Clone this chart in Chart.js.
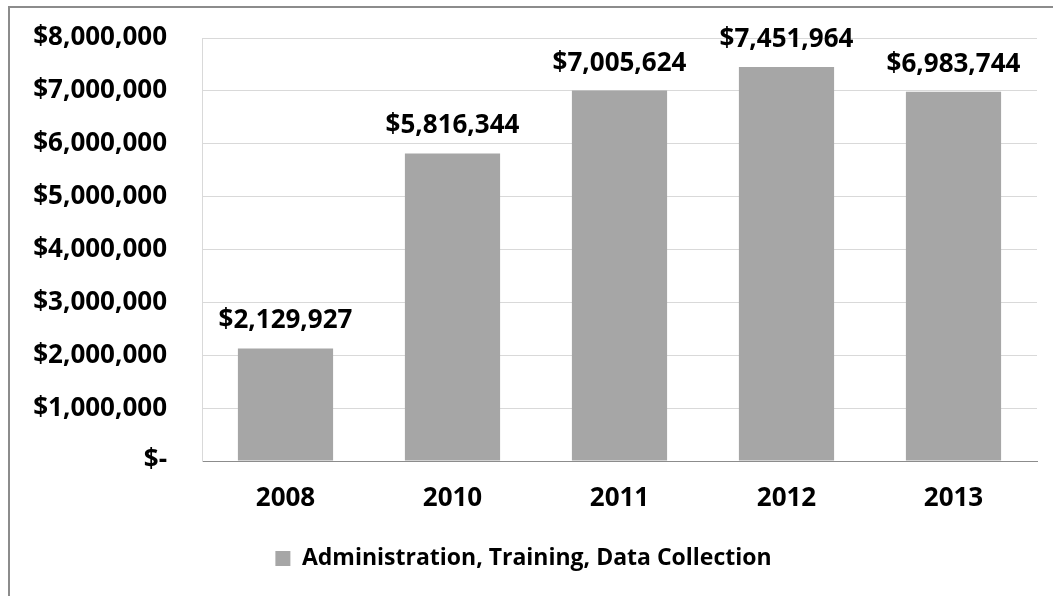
<!DOCTYPE html>
<html>
<head>
<meta charset="utf-8">
<script src="https://cdn.jsdelivr.net/npm/chart.js@4/dist/chart.umd.min.js"></script>
<style>
    html, body { margin: 0; padding: 0; background: #fff; overflow: hidden; }
    #frame {
        position: absolute;
        left: 8px;
        top: 6px;
        width: 1068px;
        height: 610px;
        border: 2px solid #8c8c8c;
        background: #fff;
    }
    #chart { display: block; }
</style>
</head>
<body>
<div id="frame">
    <div style="width:1029px;height:610px;">
        <canvas id="chart"></canvas>
    </div>
</div>
<script>
// Anos e valores gastos
const categories = ["2008", "2010", "2011", "2012", "2013"];
const seriesName = "Administration, Training, Data Collection";
const values = [2129927, 5816344, 7005624, 7451964, 6983744];
const yTicks = [0, 1000000, 2000000, 3000000, 4000000, 5000000, 6000000, 7000000, 8000000];

const FONT = "'Open Sans', Lato, sans-serif";

// Formato contábil: zero vira "$-"
function money(v) {
    if (v === 0) return "$-";
    return "$" + v.toLocaleString("en-US");
}

// Plugin simples para escrever o valor acima de cada barra
const valueLabels = {
    id: "valueLabels",
    afterDatasetsDraw(chart) {
        const ctx = chart.ctx;
        const meta = chart.getDatasetMeta(0);
        ctx.save();
        ctx.font = "bold 26px " + FONT;
        ctx.fillStyle = "#000";
        ctx.textAlign = "center";
        ctx.textBaseline = "alphabetic";
        meta.data.forEach((bar, i) => {
            ctx.fillText(money(values[i]), bar.x, bar.y - 20);
        });
        ctx.restore();
    }
};

const ctx = document.getElementById("chart").getContext("2d");
new Chart(ctx, {
    type: "bar",
    data: {
        labels: categories,
        datasets: [
            {
                label: seriesName,
                data: values,
                backgroundColor: "#a6a6a6",
                borderWidth: 0,
                categoryPercentage: 0.57,
                barPercentage: 1
            }
        ]
    },
    options: {
        responsive: true,
        maintainAspectRatio: false,
        animation: false,
        layout: {
            padding: { top: 30, right: 2, bottom: 38, left: 0 }
        },
        plugins: {
            legend: {
                display: true,
                position: "bottom",
                labels: {
                    color: "#000",
                    font: { family: FONT, size: 23, weight: "bold" },
                    boxWidth: 15,
                    boxHeight: 15,
                    padding: 26
                }
            },
            tooltip: { enabled: false }
        },
        scales: {
            x: {
                grid: { display: false, drawTicks: false },
                border: { display: true, color: "#8c8c8c", width: 1 },
                ticks: {
                    color: "#000",
                    font: { family: FONT, size: 26, weight: "bold" },
                    padding: 22
                },
                afterFit(scale) { scale.height = 60; }
            },
            y: {
                min: 0,
                max: 8000000,
                // marca invisível para afastar os rótulos do eixo
                grid: { color: "#d9d9d9", tickLength: 30, tickColor: "rgba(0,0,0,0)" },
                border: { display: true, color: "#d9d9d9", width: 1 },
                afterBuildTicks(scale) {
                    scale.ticks = yTicks.map(v => ({ value: v }));
                },
                ticks: {
                    color: "#000",
                    font: { family: FONT, size: 26, weight: "bold" },
                    padding: 5,
                    callback: v => money(v)
                },
                afterFit(scale) { scale.width = 192; }
            }
        }
    },
    plugins: [valueLabels]
});
</script>
</body>
</html>
